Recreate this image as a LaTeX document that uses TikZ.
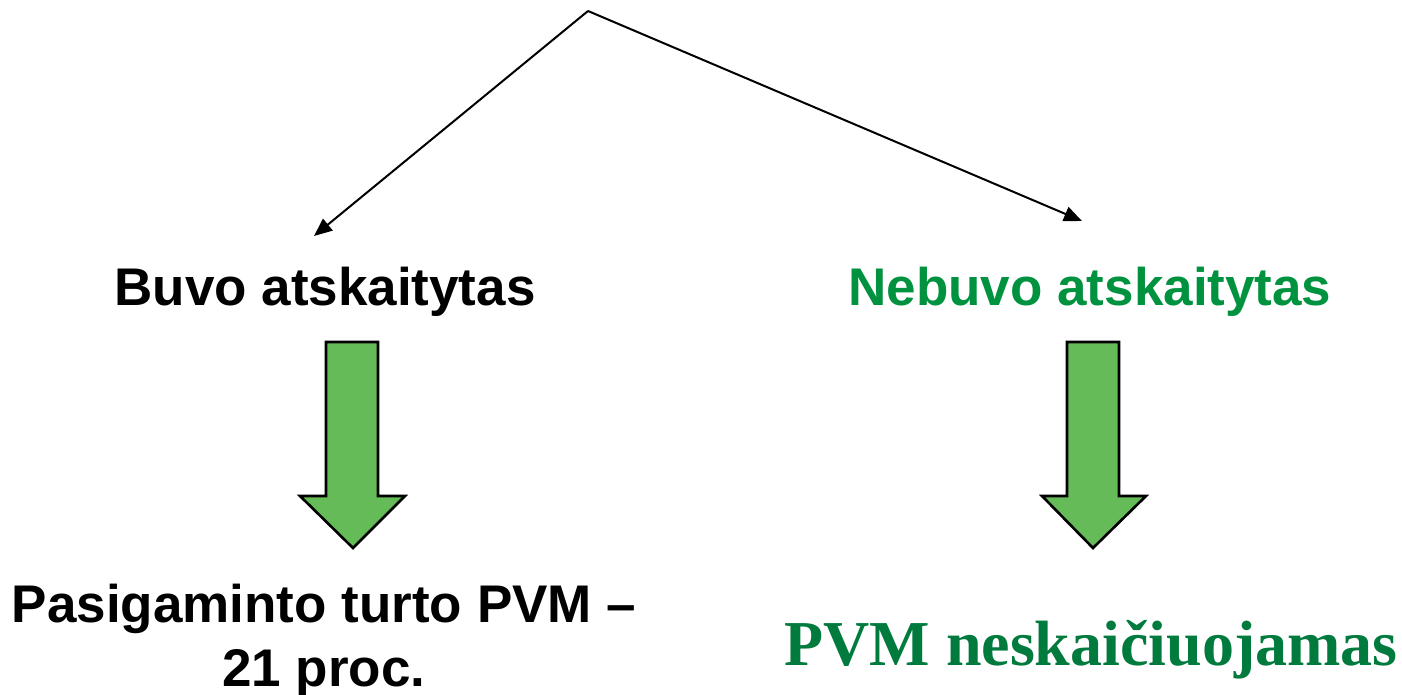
\documentclass[tikz,border=0pt]{standalone}
\usepackage{fontspec}
\setmainfont{Liberation Sans}
\newfontfamily\timesfont{Liberation Serif}
\usetikzlibrary{arrows.meta}
\definecolor{txtgreen}{RGB}{0,146,63}
\definecolor{serifgreen}{RGB}{0,122,61}
\definecolor{arrowfill}{RGB}{102,187,89}
\tikzset{
  lbl/.style={inner sep=0pt, anchor=base, font=\fontsize{53}{64}\selectfont\bfseries},
  connector/.style={line width=2pt, -{Triangle[length=18pt,width=15pt]}},
  blockarrow/.style={fill=arrowfill, draw=black, line width=2.6pt, line join=miter}
}
\begin{document}
\begin{tikzpicture}[x=1pt,y=-1pt]
\useasboundingbox (0,0) rectangle (1402,695);
\coordinate (apex) at (588,11);
\coordinate (lend) at (314,236);
\coordinate (rend) at (1082,221);
\draw[connector] (apex) -- (lend);
\draw[connector] (apex) -- (rend);
\node[lbl] (buvo) at (325,305) {Buvo atskaitytas};
\node[lbl, text=txtgreen] (nebuvo) at (1090,305) {Nebuvo atskaitytas};
\draw[blockarrow] (326,342) -- (378,342) -- (378,496) -- (405,496) -- (353,548) -- (300,496) -- (326,496) -- cycle;
\draw[blockarrow] (1067,342) -- (1119,342) -- (1119,496) -- (1146,496) -- (1093,548) -- (1042,496) -- (1067,496) -- cycle;
\node[lbl, align=center] (pasig) at (324,686) {Pasigaminto turto PVM --\\21 proc.};
\node[inner sep=0pt, anchor=base, text=serifgreen, font=\fontsize{64}{70}\selectfont\timesfont\bfseries] (pvm) at (1091,665) {PVM neskaičiuojamas};
\end{tikzpicture}
\end{document}
